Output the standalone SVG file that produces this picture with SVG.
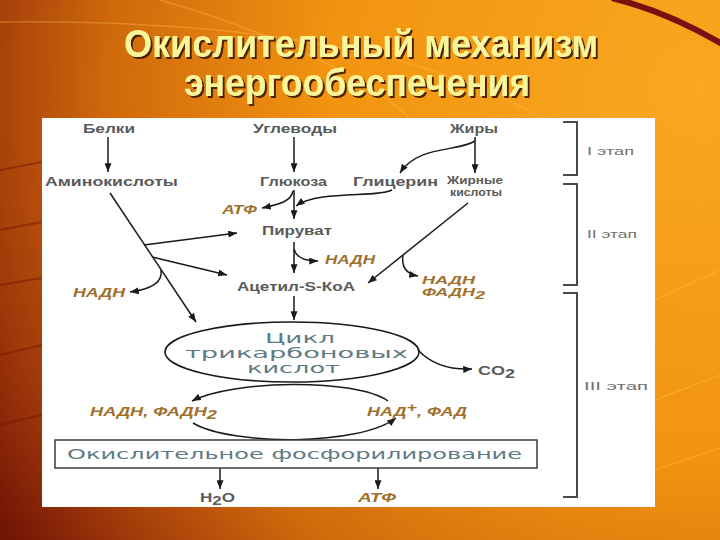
<svg xmlns="http://www.w3.org/2000/svg" width="720" height="540" viewBox="0 0 720 540">
<defs>
<radialGradient id="bg" cx="700" cy="90" r="820" gradientUnits="userSpaceOnUse">
<stop offset="0" stop-color="#f9a820"/>
<stop offset="0.45" stop-color="#f29410"/>
<stop offset="0.72" stop-color="#cf6a0c"/>
<stop offset="0.88" stop-color="#a23a0a"/>
<stop offset="1" stop-color="#741606"/>
</radialGradient>
<filter id="shadow" x="-5%" y="-20%" width="110%" height="150%">
<feDropShadow dx="2" dy="2" stdDeviation="0.6" flood-color="#3a1800" flood-opacity="0.9"/>
</filter>
<marker id="ah" viewBox="0 0 10 8" refX="10" refY="4" markerWidth="9" markerHeight="7" markerUnits="userSpaceOnUse" orient="auto">
<path d="M0,0 L10,4 L0,8 z" fill="#1a1a1a"/>
</marker>
<style>
.lb{font-family:"Liberation Sans",Arial,sans-serif;font-weight:bold;font-size:12px;fill:#5a5a5a}
.or{font-family:"Liberation Sans",Arial,sans-serif;font-weight:bold;font-style:italic;font-size:12px;fill:#a0702c}
.sm{font-size:10.5px}
.cy{font-family:"DejaVu Sans",sans-serif;font-size:14px;fill:#5f7b84}
.st{font-family:"Liberation Sans",Arial,sans-serif;font-size:10px;fill:#707070}
.ttl{font-family:"Liberation Sans",Arial,sans-serif;font-weight:bold;font-size:38px;fill:#fbf59a;filter:url(#shadow)}
.cn{fill:none;stroke:#1a1a1a;stroke-width:1.5}
.ar{marker-end:url(#ah)}
.br{fill:none;stroke:#4a4a4a;stroke-width:2}
.deco{fill:none;stroke:#ffc050;stroke-width:1.5;opacity:0.35}
.decod{fill:none;stroke:#7a1505;stroke-width:2;opacity:0.5}
</style>
</defs>
<g id="background">
<rect x="0" y="0" width="720" height="540" fill="url(#bg)"/>
<path class="deco" d="M0,22 C200,20 430,40 560,130"/>
<path class="deco" d="M160,0 C300,40 380,90 410,118"/>
<path class="deco" d="M655,300 L720,270"/>
<path class="deco" d="M655,400 L720,375"/>
<path class="deco" d="M655,470 L720,448"/>
<path class="decod" d="M0,170 L42,162"/>
<path class="decod" d="M0,230 L42,222"/>
<path class="decod" d="M0,285 L42,278"/>
<path class="decod" d="M0,355 L42,345"/>
<path class="decod" d="M0,425 L42,415"/>
<path d="M612,-2 Q668,12 722,44" fill="none" stroke="#7b1010" stroke-width="6"/>
</g>
<g id="title">
<text class="ttl" x="124" y="57" textLength="474" lengthAdjust="spacingAndGlyphs">Окислительный механизм</text>
<text class="ttl" x="184" y="96" textLength="346" lengthAdjust="spacingAndGlyphs">энергообеспечения</text>
</g>
<rect id="panel" x="42" y="118" width="613" height="389" fill="#ffffff"/>
<g id="connectors">
<line class="cn ar" x1="108" y1="137" x2="108" y2="172"/>
<line class="cn ar" x1="294" y1="137" x2="294" y2="172"/>
<line class="cn ar" x1="475" y1="137" x2="475" y2="173"/>
<path class="cn ar" d="M475,141 C458,152 418,145 400,173"/>
<line class="cn ar" x1="294" y1="190" x2="294" y2="219"/>
<path class="cn ar" d="M293,191 C291,201 281,204 262,208"/>
<path class="cn ar" d="M392,190 C378,198 318,190 296,206"/>
<line class="cn ar" x1="294" y1="242" x2="294" y2="273"/>
<path class="cn ar" d="M294,249 C296,258 305,261 318,261"/>
<line class="cn ar" x1="294" y1="296" x2="294" y2="320"/>
<line class="cn ar" x1="110" y1="193" x2="196" y2="322"/>
<path class="cn ar" d="M144,245 L237,233"/>
<path class="cn ar" d="M152,257 L227,275"/>
<path class="cn ar" d="M161,270 C163,282 152,289 130,292"/>
<line class="cn ar" x1="468" y1="203" x2="368" y2="283"/>
<path class="cn ar" d="M403,255 C401,268 407,274 418,276"/>
<path class="cn ar" d="M418,350 C432,365 450,370 472,369"/>
<path class="cn ar" d="M388,401 C355,378 232,380 192,401"/>
<path class="cn ar" d="M193,423 C232,446 360,446 396,418"/>
<line class="cn ar" x1="220" y1="468" x2="220" y2="489"/>
<line class="cn ar" x1="378" y1="468" x2="378" y2="489"/>
</g>
<g id="brackets">
<path class="br" d="M563,122 L577,122 L577,175 L563,175"/>
<path class="br" d="M563,184 L577,184 L577,285 L563,285"/>
<path class="br" d="M563,293 L577,293 L577,497 L563,497"/>
</g>
<g id="stages">
<text class="st" x="587" y="155" textLength="47" lengthAdjust="spacingAndGlyphs">I этап</text>
<text class="st" x="587" y="238" textLength="50" lengthAdjust="spacingAndGlyphs">II этап</text>
<text class="st" x="584" y="390" textLength="64" lengthAdjust="spacingAndGlyphs">III этап</text>
</g>
<g id="n-belki"><text class="lb" x="83" y="133" textLength="52" lengthAdjust="spacingAndGlyphs">Белки</text></g>
<g id="n-uglevody"><text class="lb" x="253" y="133" textLength="84" lengthAdjust="spacingAndGlyphs">Углеводы</text></g>
<g id="n-zhiry"><text class="lb" x="450" y="133" textLength="48" lengthAdjust="spacingAndGlyphs">Жиры</text></g>
<g id="n-aminokisloty"><text class="lb" x="45" y="186" textLength="133" lengthAdjust="spacingAndGlyphs">Аминокислоты</text></g>
<g id="n-glukoza"><text class="lb" x="260" y="186" textLength="67" lengthAdjust="spacingAndGlyphs">Глюкоза</text></g>
<g id="n-glicerin"><text class="lb" x="353" y="186" textLength="85" lengthAdjust="spacingAndGlyphs">Глицерин</text></g>
<g id="n-zhirnye">
<text class="lb sm" x="447" y="184" textLength="56" lengthAdjust="spacingAndGlyphs">Жирные</text>
<text class="lb sm" x="450" y="196" textLength="52" lengthAdjust="spacingAndGlyphs">кислоты</text>
</g>
<g id="n-atf1"><text class="or" x="222" y="214" textLength="35" lengthAdjust="spacingAndGlyphs">АТФ</text></g>
<g id="n-piruvat"><text class="lb" x="262" y="235" textLength="70" lengthAdjust="spacingAndGlyphs">Пируват</text></g>
<g id="n-nadh1"><text class="or" x="325" y="264" textLength="50" lengthAdjust="spacingAndGlyphs">НАДН</text></g>
<g id="n-acetil"><text class="lb" x="237" y="291" textLength="118" lengthAdjust="spacingAndGlyphs">Ацетил-S-КоА</text></g>
<g id="n-nadh2"><text class="or" x="73" y="297" textLength="52" lengthAdjust="spacingAndGlyphs">НАДН</text></g>
<g id="n-nadh3">
<text class="or sm" x="422" y="284" textLength="53" lengthAdjust="spacingAndGlyphs">НАДН</text>
<text class="or sm" x="422" y="296" textLength="63" lengthAdjust="spacingAndGlyphs">ФАДН<tspan dy="3">2</tspan></text>
</g>
<g id="n-cycle">
<ellipse cx="292" cy="352" rx="127" ry="30" fill="none" stroke="#1a1a1a" stroke-width="1.6"/>
<text class="cy" x="265" y="343" textLength="70" lengthAdjust="spacingAndGlyphs">Цикл</text>
<text class="cy" x="185" y="358" textLength="223" lengthAdjust="spacingAndGlyphs">трикарбоновых</text>
<text class="cy" x="247" y="373" textLength="93" lengthAdjust="spacingAndGlyphs">кислот</text>
</g>
<g id="n-co2"><text class="lb" x="478" y="375" textLength="37" lengthAdjust="spacingAndGlyphs" font-size="13">CO<tspan dy="3">2</tspan></text></g>
<g id="n-nadh-fadh2"><text class="or" x="90" y="416" textLength="127" lengthAdjust="spacingAndGlyphs">НАДН, ФАДН<tspan dy="3">2</tspan></text></g>
<g id="n-nad-fad"><text class="or" x="367" y="416" textLength="100" lengthAdjust="spacingAndGlyphs">НАД<tspan dy="-4">+</tspan><tspan dy="4">, ФАД</tspan></text></g>
<g id="n-oxphos">
<rect x="55" y="440" width="482" height="28" fill="#ffffff" stroke="#3a3a3a" stroke-width="1.5"/>
<text class="cy" x="67" y="459" font-size="15" textLength="455" lengthAdjust="spacingAndGlyphs">Окислительное фосфорилирование</text>
</g>
<g id="n-h2o"><text class="lb" x="200" y="502" textLength="35" lengthAdjust="spacingAndGlyphs">H<tspan dy="3">2</tspan><tspan dy="-3">O</tspan></text></g>
<g id="n-atf2"><text class="or" x="358" y="502" textLength="38" lengthAdjust="spacingAndGlyphs">АТФ</text></g>
</svg>
